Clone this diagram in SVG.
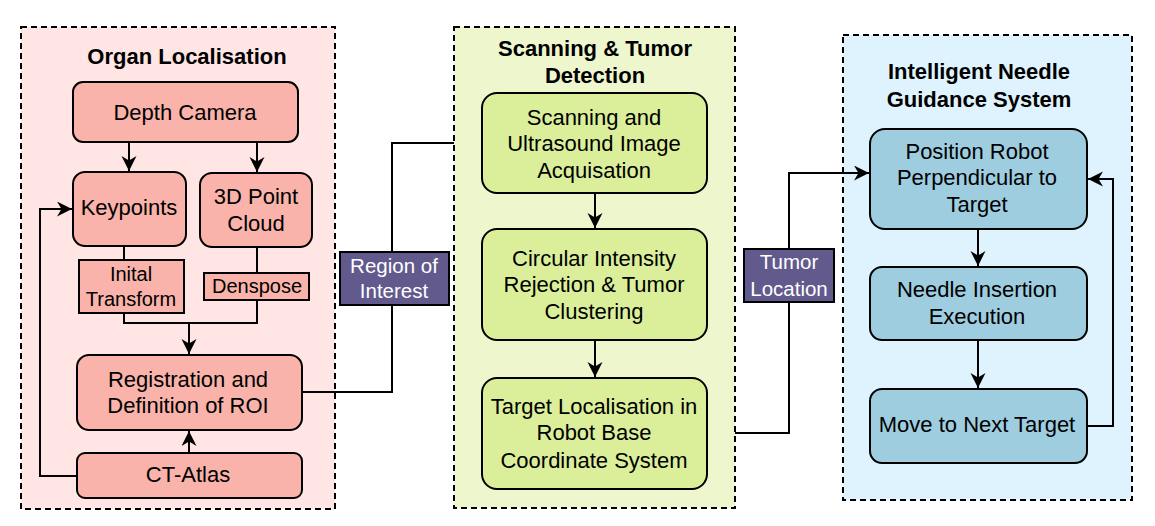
<svg xmlns="http://www.w3.org/2000/svg" width="1155" height="526" viewBox="0 0 1155 526">
<style>
.cont{stroke:#000;stroke-width:2;stroke-dasharray:6 4;}
.node{stroke:#000;stroke-width:2;}
.red{fill:#f9b3aa;}
.green{fill:#dbef9b;}
.blue{fill:#9ecde0;}
.lbl{fill:#625a8d;stroke:#000;stroke-width:2;}
.edge{fill:none;stroke:#000;stroke-width:2;}
text{font-family:"Liberation Sans",Arial,sans-serif;text-anchor:middle;fill:#000;}
.t{font-size:22px;}
.s{font-size:20px;}
.w{font-size:20.5px;fill:#fff;}
.b{font-size:22px;font-weight:bold;}
</style>
<defs>
<marker id="arr" markerUnits="userSpaceOnUse" markerWidth="16" markerHeight="16" refX="15" refY="7.5" orient="auto" viewBox="0 0 16 16">
<path d="M0,0 L15,7.5 L0,15 L4.5,7.5 z" fill="#000"/>
</marker>
</defs>
<rect width="1155" height="526" fill="#fff"/>
<g id="organ-localisation">
<rect class="cont" x="21" y="27" width="314" height="482" fill="#ffe6e5"/>
<text class="b" x="187" y="64">Organ Localisation</text>
</g>
<g id="scanning-tumor-detection">
<rect class="cont" x="454" y="27" width="281" height="481" fill="#eef6cd"/>
<text class="b" x="595" y="56">Scanning &amp; Tumor</text>
<text class="b" x="595" y="83">Detection</text>
</g>
<g id="needle-guidance">
<rect class="cont" x="843" y="35" width="289" height="465" fill="#def3fd"/>
<text class="b" x="979" y="79">Intelligent Needle</text>
<text class="b" x="979" y="107">Guidance System</text>
</g>
<g id="connectors">
<path class="edge" d="M129,142 V171" marker-end="url(#arr)"/>
<path class="edge" d="M257,142 V172" marker-end="url(#arr)"/>
<path class="edge" d="M124,246 V260"/>
<path class="edge" d="M124,313 V323 H257 V300"/>
<path class="edge" d="M257,247 V273"/>
<path class="edge" d="M189,323 V354" marker-end="url(#arr)"/>
<path class="edge" d="M189,453 V431" marker-end="url(#arr)"/>
<path class="edge" d="M77,476 H40 V209 H72" marker-end="url(#arr)"/>
<path class="edge" d="M302,392 H392 V143 H454"/>
<path class="edge" d="M595,193 V228" marker-end="url(#arr)"/>
<path class="edge" d="M595,340 V377" marker-end="url(#arr)"/>
<path class="edge" d="M735,433 H789 V173 H869" marker-end="url(#arr)"/>
<path class="edge" d="M978,229 V266" marker-end="url(#arr)"/>
<path class="edge" d="M978,340 V388" marker-end="url(#arr)"/>
<path class="edge" d="M1087,426 H1113 V179 H1088" marker-end="url(#arr)"/>
</g>
<g id="depth-camera">
<rect class="node red" x="73" y="82" width="225" height="60" rx="10"/>
<text class="t" x="185" y="120">Depth Camera</text>
</g>
<g id="keypoints">
<rect class="node red" x="73" y="172" width="113" height="74" rx="12"/>
<text class="t" x="129" y="215">Keypoints</text>
</g>
<g id="point-cloud">
<rect class="node red" x="200" y="173" width="112" height="74" rx="12"/>
<text class="t" x="256" y="204">3D Point</text>
<text class="t" x="256" y="231">Cloud</text>
</g>
<g id="inital-transform">
<rect class="node red" x="79" y="260" width="105" height="53"/>
<text class="s" x="131" y="281">Inital</text>
<text class="s" x="131" y="306">Transform</text>
</g>
<g id="denspose">
<rect class="node red" x="204" y="273" width="105" height="27"/>
<text class="s" x="257" y="293">Denspose</text>
</g>
<g id="registration">
<rect class="node red" x="77" y="355" width="225" height="75" rx="12"/>
<text class="t" x="188" y="387">Registration and</text>
<text class="t" x="188" y="413">Definition of ROI</text>
</g>
<g id="ct-atlas">
<rect class="node red" x="77" y="453" width="225" height="45" rx="8"/>
<text class="t" x="188" y="482">CT-Atlas</text>
</g>
<g id="region-of-interest">
<rect class="lbl" x="340" y="252" width="109" height="53"/>
<text class="w" x="394" y="273">Region of</text>
<text class="w" x="394" y="298">Interest</text>
</g>
<g id="scanning">
<rect class="node green" x="482" y="93" width="225" height="100" rx="15"/>
<text class="t" x="594" y="125">Scanning and</text>
<text class="t" x="594" y="151">Ultrasound Image</text>
<text class="t" x="594" y="178">Acquisation</text>
</g>
<g id="circular-intensity">
<rect class="node green" x="482" y="229" width="225" height="111" rx="15"/>
<text class="t" x="594" y="266">Circular Intensity</text>
<text class="t" x="594" y="292">Rejection &amp; Tumor</text>
<text class="t" x="594" y="319">Clustering</text>
</g>
<g id="target-localisation">
<rect class="node green" x="482" y="378" width="225" height="111" rx="15"/>
<text class="t" x="594" y="414">Target Localisation in</text>
<text class="t" x="594" y="440">Robot Base</text>
<text class="t" x="594" y="468">Coordinate System</text>
</g>
<g id="tumor-location">
<rect class="lbl" x="744" y="249" width="90" height="53"/>
<text class="w" x="789" y="269">Tumor</text>
<text class="w" x="789" y="296">Location</text>
</g>
<g id="position-robot">
<rect class="node blue" x="870" y="129" width="217" height="100" rx="15"/>
<text class="t" x="977" y="159">Position Robot</text>
<text class="t" x="977" y="185">Perpendicular to</text>
<text class="t" x="977" y="212">Target</text>
</g>
<g id="needle-insertion">
<rect class="node blue" x="870" y="267" width="217" height="73" rx="12"/>
<text class="t" x="977" y="297">Needle Insertion</text>
<text class="t" x="977" y="324">Execution</text>
</g>
<g id="move-next">
<rect class="node blue" x="870" y="389" width="217" height="74" rx="12"/>
<text class="t" x="977" y="432">Move to Next Target</text>
</g>
</svg>
